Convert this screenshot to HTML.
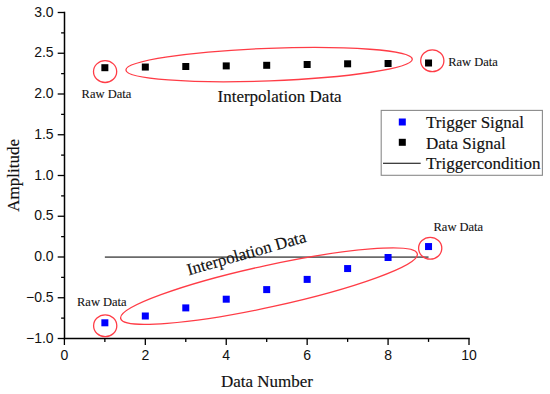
<!DOCTYPE html>
<html><head><meta charset="utf-8"><style>
html,body{margin:0;padding:0;background:#fff;}
body{width:550px;height:394px;overflow:hidden;}
svg{display:block;}
.tl{font-family:"Liberation Sans",sans-serif;font-size:14px;fill:#111;}
.rd{font-family:"Liberation Serif",serif;font-size:12.5px;fill:#111;stroke:#111;stroke-width:0.1px;}
.big{font-family:"Liberation Serif",serif;font-size:17px;fill:#111;stroke:#111;stroke-width:0.15px;}
</style></head><body>
<svg width="550" height="394" viewBox="0 0 550 394">
<line x1="64.5" y1="11.75" x2="64.5" y2="339.25" stroke="#000" stroke-width="1.5"/>
<line x1="63.75" y1="338.5" x2="469.75" y2="338.5" stroke="#000" stroke-width="1.5"/>
<line x1="57.70" y1="338.50" x2="64.5" y2="338.50" stroke="#000" stroke-width="1.3"/>
<line x1="61.10" y1="318.12" x2="64.5" y2="318.12" stroke="#000" stroke-width="1.3"/>
<line x1="57.70" y1="297.75" x2="64.5" y2="297.75" stroke="#000" stroke-width="1.3"/>
<line x1="61.10" y1="277.38" x2="64.5" y2="277.38" stroke="#000" stroke-width="1.3"/>
<line x1="57.70" y1="257.00" x2="64.5" y2="257.00" stroke="#000" stroke-width="1.3"/>
<line x1="61.10" y1="236.62" x2="64.5" y2="236.62" stroke="#000" stroke-width="1.3"/>
<line x1="57.70" y1="216.25" x2="64.5" y2="216.25" stroke="#000" stroke-width="1.3"/>
<line x1="61.10" y1="195.88" x2="64.5" y2="195.88" stroke="#000" stroke-width="1.3"/>
<line x1="57.70" y1="175.50" x2="64.5" y2="175.50" stroke="#000" stroke-width="1.3"/>
<line x1="61.10" y1="155.12" x2="64.5" y2="155.12" stroke="#000" stroke-width="1.3"/>
<line x1="57.70" y1="134.75" x2="64.5" y2="134.75" stroke="#000" stroke-width="1.3"/>
<line x1="61.10" y1="114.38" x2="64.5" y2="114.38" stroke="#000" stroke-width="1.3"/>
<line x1="57.70" y1="94.00" x2="64.5" y2="94.00" stroke="#000" stroke-width="1.3"/>
<line x1="61.10" y1="73.62" x2="64.5" y2="73.62" stroke="#000" stroke-width="1.3"/>
<line x1="57.70" y1="53.25" x2="64.5" y2="53.25" stroke="#000" stroke-width="1.3"/>
<line x1="61.10" y1="32.88" x2="64.5" y2="32.88" stroke="#000" stroke-width="1.3"/>
<line x1="57.70" y1="12.50" x2="64.5" y2="12.50" stroke="#000" stroke-width="1.3"/>
<text x="53.6" y="342.70" text-anchor="end" class="tl">−1.0</text>
<text x="53.6" y="301.95" text-anchor="end" class="tl">−0.5</text>
<text x="53.6" y="261.20" text-anchor="end" class="tl">0.0</text>
<text x="53.6" y="220.45" text-anchor="end" class="tl">0.5</text>
<text x="53.6" y="179.70" text-anchor="end" class="tl">1.0</text>
<text x="53.6" y="138.95" text-anchor="end" class="tl">1.5</text>
<text x="53.6" y="98.20" text-anchor="end" class="tl">2.0</text>
<text x="53.6" y="57.45" text-anchor="end" class="tl">2.5</text>
<text x="53.6" y="16.70" text-anchor="end" class="tl">3.0</text>
<line x1="64.40" y1="338.5" x2="64.40" y2="345.0" stroke="#000" stroke-width="1.3"/>
<text x="64.40" y="360.2" text-anchor="middle" class="tl">0</text>
<line x1="104.86" y1="338.5" x2="104.86" y2="341.9" stroke="#000" stroke-width="1.3"/>
<line x1="145.32" y1="338.5" x2="145.32" y2="345.0" stroke="#000" stroke-width="1.3"/>
<text x="145.32" y="360.2" text-anchor="middle" class="tl">2</text>
<line x1="185.78" y1="338.5" x2="185.78" y2="341.9" stroke="#000" stroke-width="1.3"/>
<line x1="226.24" y1="338.5" x2="226.24" y2="345.0" stroke="#000" stroke-width="1.3"/>
<text x="226.24" y="360.2" text-anchor="middle" class="tl">4</text>
<line x1="266.70" y1="338.5" x2="266.70" y2="341.9" stroke="#000" stroke-width="1.3"/>
<line x1="307.16" y1="338.5" x2="307.16" y2="345.0" stroke="#000" stroke-width="1.3"/>
<text x="307.16" y="360.2" text-anchor="middle" class="tl">6</text>
<line x1="347.62" y1="338.5" x2="347.62" y2="341.9" stroke="#000" stroke-width="1.3"/>
<line x1="388.08" y1="338.5" x2="388.08" y2="345.0" stroke="#000" stroke-width="1.3"/>
<text x="388.08" y="360.2" text-anchor="middle" class="tl">8</text>
<line x1="428.54" y1="338.5" x2="428.54" y2="341.9" stroke="#000" stroke-width="1.3"/>
<line x1="469.00" y1="338.5" x2="469.00" y2="345.0" stroke="#000" stroke-width="1.3"/>
<text x="469.00" y="360.2" text-anchor="middle" class="tl">10</text>
<line x1="104.86" y1="257.1" x2="428.54" y2="257.1" stroke="#6a6a6a" stroke-width="1.6"/>
<rect x="101.36" y="64.20" width="7.0" height="7.0" fill="#000"/>
<rect x="141.82" y="63.55" width="7.0" height="7.0" fill="#000"/>
<rect x="182.28" y="63.00" width="7.0" height="7.0" fill="#000"/>
<rect x="222.74" y="62.40" width="7.0" height="7.0" fill="#000"/>
<rect x="263.20" y="61.80" width="7.0" height="7.0" fill="#000"/>
<rect x="303.66" y="61.00" width="7.0" height="7.0" fill="#000"/>
<rect x="344.12" y="60.30" width="7.0" height="7.0" fill="#000"/>
<rect x="384.58" y="60.00" width="7.0" height="7.0" fill="#000"/>
<rect x="425.04" y="59.50" width="7.0" height="7.0" fill="#000"/>
<rect x="101.36" y="319.30" width="7.0" height="7.0" fill="#0000ff"/>
<rect x="141.82" y="312.50" width="7.0" height="7.0" fill="#0000ff"/>
<rect x="182.28" y="304.40" width="7.0" height="7.0" fill="#0000ff"/>
<rect x="222.74" y="295.70" width="7.0" height="7.0" fill="#0000ff"/>
<rect x="263.20" y="286.10" width="7.0" height="7.0" fill="#0000ff"/>
<rect x="303.66" y="275.90" width="7.0" height="7.0" fill="#0000ff"/>
<rect x="344.12" y="265.05" width="7.0" height="7.0" fill="#0000ff"/>
<rect x="384.58" y="254.00" width="7.0" height="7.0" fill="#0000ff"/>
<rect x="425.04" y="243.05" width="7.0" height="7.0" fill="#0000ff"/>
<ellipse cx="105.1" cy="71.6" rx="11.6" ry="10.9" fill="none" stroke="#ff3c46" stroke-width="1.3"/>
<ellipse cx="432.3" cy="60.7" rx="11.6" ry="10.9" fill="none" stroke="#ff3c46" stroke-width="1.3"/>
<ellipse cx="105.2" cy="325.7" rx="11.6" ry="10.9" fill="none" stroke="#ff3c46" stroke-width="1.3"/>
<ellipse cx="430.2" cy="248.25" rx="11.6" ry="10.9" fill="none" stroke="#ff3c46" stroke-width="1.3"/>
<ellipse cx="0" cy="0" rx="143.3" ry="16.3" fill="none" stroke="#ff3c46" stroke-width="1.3" transform="translate(269.1 64.6) rotate(-2.18)"/>
<ellipse cx="0" cy="0" rx="151.8" ry="20.8" fill="none" stroke="#ff3c46" stroke-width="1.3" transform="translate(269.0 286.15) rotate(-12.3)"/>
<text x="81.6" y="98.2" class="rd">Raw Data</text>
<text x="448.2" y="65.5" class="rd">Raw Data</text>
<text x="77.0" y="306.0" class="rd">Raw Data</text>
<text x="433.5" y="230.9" class="rd">Raw Data</text>
<text x="217.5" y="102.4" class="big">Interpolation Data</text>
<text x="0" y="0" class="big" style="font-size:16.9px" transform="translate(188.7 275.4) rotate(-15.9)">Interpolation Data</text>
<text x="267" y="386.8" text-anchor="middle" class="big">Data Number</text>
<text x="0" y="0" text-anchor="middle" class="big" transform="translate(18.9 175.3) rotate(-90)">Amplitude</text>
<rect x="381.2" y="110.4" width="161.2" height="64.9" fill="#fff" stroke="#8a8a8a" stroke-width="1.1"/>
<rect x="398.8" y="118.5" width="7.0" height="7.0" fill="#0000ff"/>
<rect x="398.8" y="138.8" width="7.0" height="7.0" fill="#000"/>
<line x1="383" y1="163.2" x2="420.7" y2="163.2" stroke="#000" stroke-width="1.1"/>
<text x="426" y="127.8" class="big">Trigger Signal</text>
<text x="426" y="148.7" class="big">Data Signal</text>
<text x="426" y="169.2" class="big">Triggercondition</text>
</svg>
</body></html>
